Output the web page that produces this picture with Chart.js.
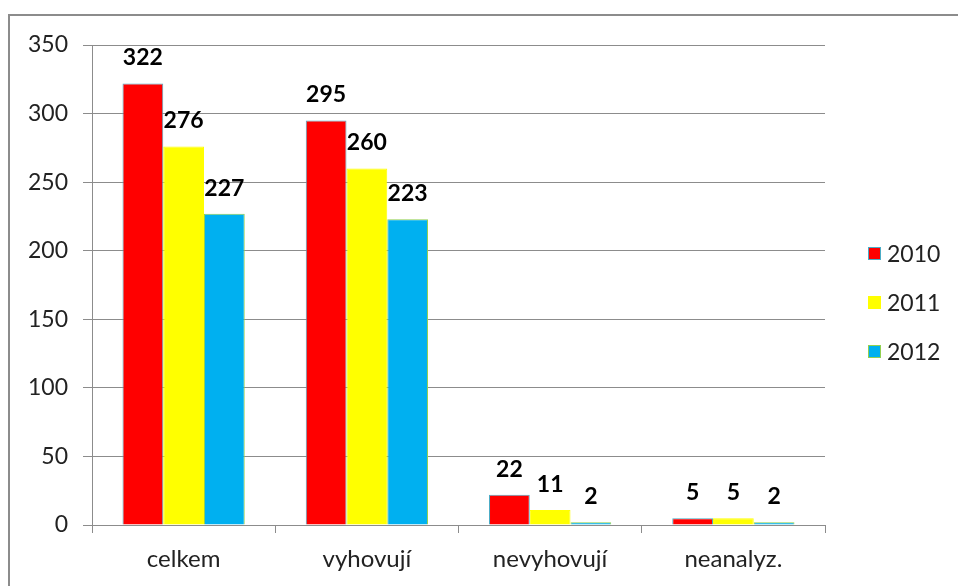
<!DOCTYPE html>
<html>
<head>
<meta charset="utf-8">
<script src="https://cdn.jsdelivr.net/npm/chart.js@4"></script>
<style>
  html, body { margin: 0; padding: 0; background: #fff; }
  #wrap { position: relative; width: 958px; height: 586px; }
  #frame { position: absolute; left: 8px; top: 14px; width: 960px; height: 600px; border: 2px solid #8c8c8c; box-sizing: border-box; }
  canvas { position: absolute; left: 0; top: 0; }
</style>
</head>
<body>
<div id="wrap">
  <div id="frame"></div>
  <canvas id="chart" width="958" height="586"></canvas>
</div>
<script>
// kategorie a hodnoty
const categories = ['celkem', 'vyhovují', 'nevyhovují', 'neanalyz.'];
const years = ['2010', '2011', '2012'];
const values2010 = [322, 295, 22, 5];
const values2011 = [276, 260, 11, 5];
const values2012 = [227, 223, 2, 2];
const yTicks = [0, 50, 100, 150, 200, 250, 300, 350];

const fillColors = ['#ff0000', '#ffff00', '#00b0f0'];
const edgeColors = ['#4bacc6', '#ffff00', '#92d050'];

// popisky nad sloupci
const valueLabels = {
    id: 'valueLabels',
    afterDatasetsDraw(chart) {
        const ctx = chart.ctx;
        ctx.save();
        ctx.font = 'bold 23px Lato';
        ctx.fillStyle = '#000';
        ctx.textAlign = 'center';
        ctx.textBaseline = 'alphabetic';
        chart.data.datasets.forEach((ds, i) => {
            chart.getDatasetMeta(i).data.forEach((bar, j) => {
                ctx.fillText(ds.data[j], bar.x, bar.y - 18);
            });
        });
        ctx.restore();
    }
};

// legenda vpravo
const sideLegend = {
    id: 'sideLegend',
    afterDraw(chart) {
        const ctx = chart.ctx;
        ctx.save();
        ctx.font = '23px Lato';
        ctx.textBaseline = 'middle';
        chart.data.datasets.forEach((ds, i) => {
            const y = 254 + i * 49;
            ctx.fillStyle = ds.backgroundColor;
            ctx.fillRect(868, y - 7, 13, 13);
            ctx.strokeStyle = ds.borderColor;
            ctx.lineWidth = 1;
            ctx.strokeRect(868.5, y - 6.5, 12, 12);
            ctx.fillStyle = '#222';
            ctx.fillText(ds.label, 887, y + 1);
        });
        ctx.restore();
    }
};

new Chart(document.getElementById('chart'), {
    type: 'bar',
    data: {
        labels: categories,
        datasets: [values2010, values2011, values2012].map((vals, i) => ({
            label: years[i],
            data: vals,
            backgroundColor: fillColors[i],
            borderColor: edgeColors[i],
            borderWidth: 1,
            categoryPercentage: 0.667,
            barPercentage: 1
        }))
    },
    options: {
        responsive: false,
        animation: false,
        layout: { padding: { top: 45, right: 133, left: 0, bottom: 0 } },
        plugins: {
            legend: { display: false },
            tooltip: { enabled: false }
        },
        scales: {
            x: {
                afterFit(scale) { scale.height = 61; },
                grid: { offset: true, drawOnChartArea: false, drawTicks: true, tickLength: 8, color: '#8c8c8c' },
                border: { color: '#8c8c8c', width: 1 },
                ticks: { color: '#222', font: { family: 'Lato', size: 24 }, padding: 12 }
            },
            y: {
                min: 0,
                max: 350,
                afterFit(scale) { scale.width = 92; },
                afterBuildTicks(scale) { scale.ticks = yTicks.map(v => ({ value: v })); },
                grid: { color: '#8c8c8c', tickLength: 9 },
                border: { color: '#8c8c8c', width: 1 },
                ticks: { color: '#222', font: { family: 'Lato', size: 23 }, padding: 15 }
            }
        }
    },
    plugins: [valueLabels, sideLegend]
});
</script>
</body>
</html>
